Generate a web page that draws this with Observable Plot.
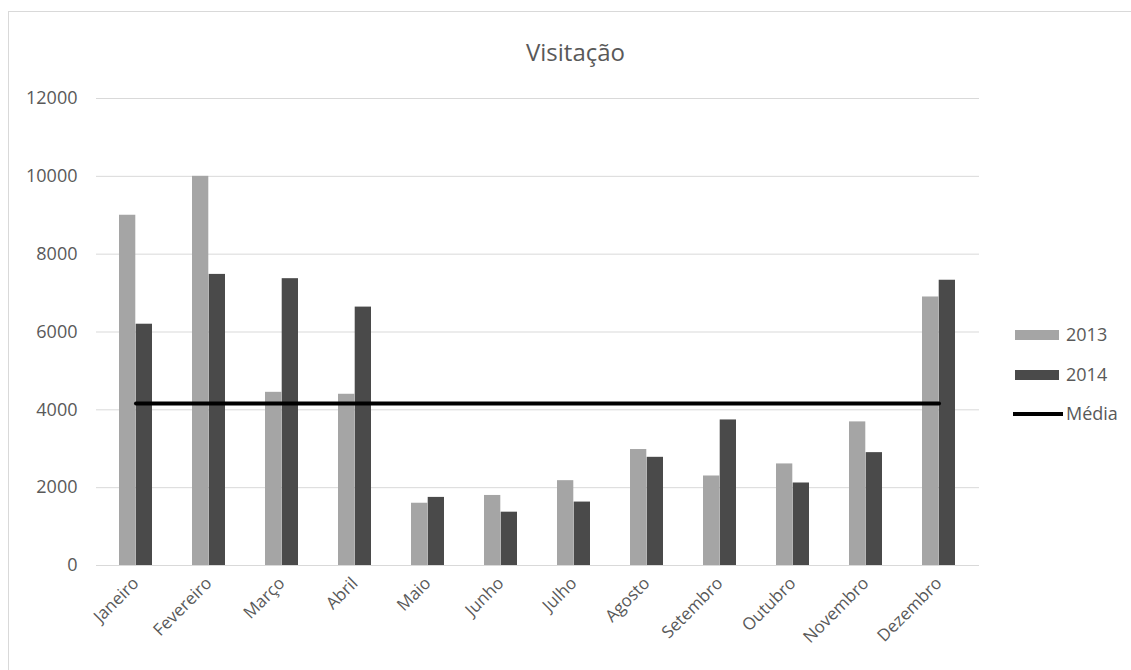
<!DOCTYPE html>
<html><head><meta charset="utf-8">
<script src="https://cdn.jsdelivr.net/npm/d3@7"></script>
<script src="https://cdn.jsdelivr.net/npm/@observablehq/plot@0.6"></script>
<style>
body{margin:0;background:#fff;}
#wrap{position:relative;width:1131px;height:670px;overflow:hidden;font-family:"Open Sans",sans-serif;color:#595959;}
#frame{position:absolute;left:8px;top:11px;width:1200px;height:700px;border-left:1px solid #d9d9d9;border-top:1px solid #d9d9d9;}
#title{position:absolute;left:0;width:1151px;top:40px;text-align:center;font-size:24px;line-height:24px;}
#chart{position:absolute;left:0;top:0;}
.sw{position:absolute;}
.lt{position:absolute;font-size:18px;line-height:18px;white-space:nowrap;}
</style></head>
<body>
<div id="wrap">
  <div id="frame"></div>
  <div id="chart"></div>
  <div id="title">Visitação</div>
  <div id="legend"></div>
</div>
<script>
const months = ["Janeiro","Fevereiro","Março","Abril","Maio","Junho","Julho","Agosto","Setembro","Outubro","Novembro","Dezembro"];
const v2013 = [9000,10000,4450,4400,1600,1800,2180,2980,2300,2610,3690,6900];
const v2014 = [6200,7480,7370,6640,1750,1370,1630,2780,3740,2120,2900,7330];
const mediaValue = 4160;
const seriesNames = ["2013","2014","Média"];
const yTicks = [0,2000,4000,6000,8000,10000,12000];

const colors = {"2013":"#a5a5a5","2014":"#4a4a4a","Média":"#000000"};

const data2013 = months.map((m,i)=>({month:m, value:v2013[i]}));
const data2014 = months.map((m,i)=>({month:m, value:v2014[i]}));
const mediaData = months.map(m=>({month:m, value:mediaValue}));

const W=1131, H=670, mL=96, mR=152, mT=98, mB=105;
const pad = 0.546;
const step = (W-mL-mR)/months.length;
const bw = step*(1-pad);

const chart = Plot.plot({
  width:W, height:H, marginLeft:mL, marginRight:mR, marginTop:mT, marginBottom:mB,
  style:{fontFamily:"'Open Sans', sans-serif", background:"transparent", overflow:"visible"},
  x:{domain:months, paddingInner:pad, paddingOuter:pad/2, label:null},
  y:{domain:[0,12000], label:null},
  marks:[
    Plot.ruleY(yTicks, {stroke:"#d9d9d9", strokeWidth:1}),
    Plot.barY(data2013, {x:"month", y:"value", fill:colors["2013"], insetRight:bw/2}),
    Plot.barY(data2014, {x:"month", y:"value", fill:colors["2014"], insetLeft:bw/2}),
    Plot.lineY(mediaData, {x:"month", y:"value", stroke:colors["Média"], strokeWidth:4}),
    Plot.axisY({ticks:yTicks, tickSize:0, tickPadding:19, tickFormat:d=>String(d), fontSize:18, fill:"#595959", label:null}),
    Plot.axisX({tickSize:0, tickPadding:15, tickRotate:-45, fontSize:17, fill:"#595959", label:null})
  ]
});
document.getElementById("chart").appendChild(chart);

const legend = document.getElementById("legend");
const rows = [
  {name:seriesNames[0], type:"bar", cy:335},
  {name:seriesNames[1], type:"bar", cy:375},
  {name:seriesNames[2], type:"line", cy:414}
];
rows.forEach(r=>{
  const sw = document.createElement("div");
  sw.className="sw";
  if(r.type==="bar"){
    sw.style.cssText=`left:1015px;top:${r.cy-5}px;width:44px;height:10px;background:${colors[r.name]};`;
  } else {
    sw.style.cssText=`left:1013px;top:${r.cy-2}px;width:50px;height:4px;background:${colors[r.name]};`;
  }
  legend.appendChild(sw);
  const t = document.createElement("div");
  t.className="lt";
  t.style.cssText=`left:1066px;top:${r.cy-10}px;`;
  t.textContent=r.name;
  legend.appendChild(t);
});
</script>
</body></html>
